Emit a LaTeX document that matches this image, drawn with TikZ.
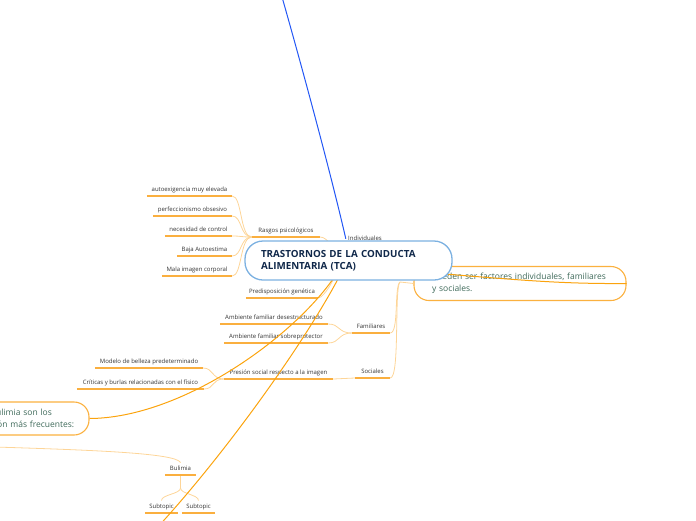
\documentclass[tikz,border=0pt]{standalone}
\usepackage{fontspec}
\setmainfont{Open Sans}
\definecolor{lbltext}{HTML}{333333}
\definecolor{ulcol}{HTML}{FAAF3F}
\definecolor{conncol}{HTML}{FDD598}
\definecolor{relcol}{HTML}{FBA30D}
\definecolor{bluecol}{HTML}{2357F5}
\definecolor{tcaborder}{HTML}{7CB1E1}
\definecolor{tcatext}{HTML}{10284A}
\definecolor{notetext}{HTML}{3F6A5A}
\definecolor{notebord}{HTML}{FBB13F}
\begin{document}
\begin{tikzpicture}[x=1pt,y=-1pt,
  lbl/.style={anchor=south, inner xsep=0pt, inner ysep=3.2pt, text height=4.4pt,
    text depth=1.3pt, font=\fontsize{6}{7}\selectfont, text=lbltext},
  uline/.style={draw=ulcol, line width=1.6pt},
  conn/.style={draw=conncol, line width=0.8pt},
  rel/.style={draw=relcol, line width=1pt},
  bluerel/.style={draw=bluecol, line width=1pt},
  callout/.style={draw=notebord, line width=1.1pt, fill=white, rounded corners=15pt,
    align=left, text=notetext, font=\fontsize{8.5}{12}\selectfont},
  topic/.style={draw=tcaborder, line width=1.3pt, fill=white, rounded corners=18pt,
    align=left, text=tcatext, font=\fontsize{9.8}{12.2}\selectfont\bfseries}]
\useasboundingbox (0,0) rectangle (696,520);
\clip (0,0) rectangle (696,520);

% hub coordinates
\coordinate (hub) at (340,262);
\coordinate (hubR) at (400,282);
\coordinate (relA) at (333,279);
\coordinate (relB) at (338,279);
\coordinate (relC) at (432,273);
\coordinate (offB) at (155,530);
\coordinate (offT) at (282,-3);
\coordinate (offL) at (-5,447);

% callouts
\node[callout, minimum width=212pt, minimum height=34pt, text width=176pt, inner xsep=18pt]
  (note) at (520,283.5) {\mbox{Pueden ser factores individuales, familiares}\\y sociales.};
\node[callout, minimum width=115pt, minimum height=33pt, text width=81pt, inner xsep=17pt]
  (lcall) at (31.5,418.5) {\mbox{bulimia son los}\\\mbox{ción más frecuentes:}};

% labels
\node[lbl, minimum width=85pt] (auto) at (189.5,196) {autoexigencia muy elevada};
\node[lbl, minimum width=79pt] (perf) at (192.5,216) {perfeccionismo obsesivo};
\node[lbl, minimum width=67pt] (nec) at (198.5,236) {necesidad de control};
\node[lbl, minimum width=55pt] (baja) at (204.5,256) {Baja Autoestima};
\node[lbl, minimum width=70pt] (mala) at (197,276) {Mala imagen corporal};
\node[lbl, minimum width=68pt] (rasgos) at (286,237) {Rasgos psicológicos};
\node[lbl, minimum width=72pt] (pred) at (282,298) {Predisposición genética};
\node[lbl, minimum width=38pt] (indiv) at (365,245) {Individuales};
\node[lbl, minimum width=38pt] (fam) at (371,333) {Familiares};
\node[lbl, minimum width=35pt] (soc) at (372.5,378) {Sociales};
\node[lbl, minimum width=108pt] (desest) at (274,324) {Ambiente familiar desestructurado};
\node[lbl, minimum width=104pt] (sobre) at (276,343) {Ambiente familiar sobreprotector};
\node[lbl, minimum width=109pt] (presion) at (278.5,379) {Presión social respecto a la imagen};
\node[lbl, minimum width=108pt] (modelo) at (149,368) {Modelo de belleza predeterminado};
\node[lbl, minimum width=127pt] (criticas) at (140.5,389) {Críticas y burlas relacionadas con el físico};
\node[lbl, minimum width=31pt] (bulimia) at (180.5,475) {Bulimia};
\node[lbl, minimum width=33pt] (subA) at (161.5,513) {Subtopic};
\node[lbl, minimum width=33pt] (subB) at (198.5,513) {Subtopic};

% thin connectors
\foreach \n in {auto,perf,nec,baja,mala}
  \draw[conn] (rasgos.south west) .. controls +(-12,0) and +(10,0) .. (\n.south east);
\draw[conn] (rasgos.south east) .. controls +(8,0) and +(-4,-10) .. (hub);
\draw[conn] (pred.south east) .. controls +(6,0) and +(-2,12) .. (hub);
\draw[conn] (indiv.south west) -- (hub);
\draw[conn] (hubR) -- (note.west);
\draw[conn] (fam.south east) .. controls +(9,0) and +(-6,4) .. (hubR);
\draw[conn] (soc.south east) .. controls +(10,0) and +(-6,6) .. (hubR);
\foreach \n in {desest,sobre}
  \draw[conn] (fam.south west) .. controls +(-14,0) and +(12,0) .. (\n.south east);
\draw[conn] (soc.south west) -- (presion.south east);
\foreach \n in {modelo,criticas}
  \draw[conn] (presion.south west) .. controls +(-12,0) and +(10,0) .. (\n.south east);
\draw[conn] (offL) .. controls (90,450) and (176,453) .. (bulimia.north);
\draw[conn] (bulimia.south) -- ++(0,13) .. controls +(0,6) and +(0,-6) .. (subA.north);
\draw[conn] (bulimia.south) -- ++(0,13) .. controls +(0,6) and +(0,-6) .. (subB.north);

% underlines
\foreach \n in {auto,perf,nec,baja,mala,rasgos,pred,indiv,fam,soc,desest,sobre,presion,modelo,criticas,bulimia,subA,subB}
  \draw[uline] (\n.south west) -- (\n.south east);

% relationship lines
\draw[rel] (relA) .. controls (290,340) and (180,418) .. (lcall.east);
\draw[rel] (relB) .. controls (300,350) and (220,460) .. (offB);
\draw[rel] (relC) .. controls (520,280) and (560,284) .. (note.east);
\draw[bluerel] (offT) .. controls (300,60) and (330,170) .. (indiv.west);

% central topic
\node[topic, minimum width=207pt, minimum height=39pt, text width=175pt, inner xsep=16pt]
  (tca) at (348.5,260.5) {TRASTORNOS DE LA CONDUCTA\\ALIMENTARIA (TCA)};
\end{tikzpicture}
\end{document}
